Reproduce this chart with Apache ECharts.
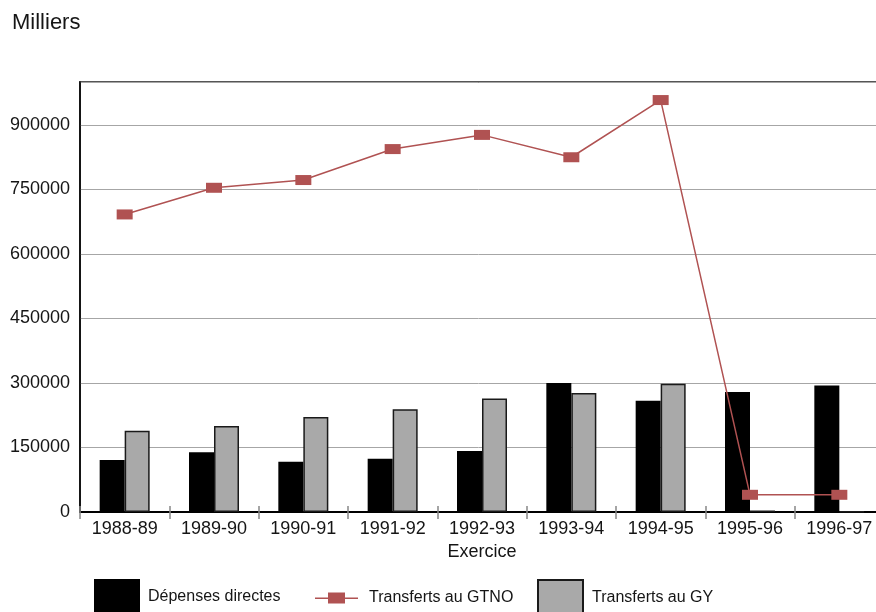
<!DOCTYPE html>
<html>
<head>
<meta charset="utf-8">
<script src="https://cdn.jsdelivr.net/npm/echarts@6/dist/echarts.min.js"></script>
<style>
  html, body { margin: 0; padding: 0; background: #fff; }
  #chart { width: 876px; height: 612px; }
</style>
</head>
<body>
<div id="chart"></div>
<script>
// Exercices financiers
const exercices = ['1988-89', '1989-90', '1990-91', '1991-92', '1992-93', '1993-94', '1994-95', '1995-96', '1996-97'];

// Montants en milliers de dollars
const depensesDirectes = [121000, 139000, 117000, 124000, 142000, 300000, 259000, 279000, 294000];
const transfertsGTNO  = [692000, 754000, 772000, 844000, 877000, 825000, 958000, 40000, 40000];
const transfertsGY    = [189000, 200000, 221000, 239000, 264000, 277000, 298000, 3500, 1200];

// Graduations de l'axe des valeurs
const yMin = 0;
const yMax = 1000000;
const yStep = 150000;

const FONT = "'Liberation Sans', Arial, sans-serif";
const TEXT = '#151515';
const RED = '#b05252';

const chart = echarts.init(document.getElementById('chart'), null, { renderer: 'canvas' });

chart.setOption({
  animation: false,
  backgroundColor: '#ffffff',
  textStyle: { fontFamily: FONT, color: TEXT },
  title: {
    text: 'Milliers',
    left: 12,
    top: 12,
    padding: 0,
    textStyle: { fontFamily: FONT, fontSize: 22, fontWeight: 'normal', color: TEXT }
  },
  grid: {
    left: 80,
    width: 804,
    top: 82,
    bottom: 100,
    outerBoundsMode: 'none',
    containLabel: false,
    show: true,
    borderColor: '#555',
    borderWidth: 2,
    backgroundColor: 'transparent'
  },
  legend: [
    {
      data: [{ name: 'Dépenses directes', icon: 'rect' }],
      left: 94, top: 579, padding: 0,
      itemWidth: 46, itemHeight: 36,
      textStyle: { fontFamily: FONT, fontSize: 16, color: TEXT, padding: [0, 0, 0, 3] },
      selectedMode: false
    },
    {
      data: [{
        name: 'Transferts au GTNO',
        icon: 'path://M0,5 L13,5 L13,0 L30,0 L30,5 L43,5 L43,6.5 L30,6.5 L30,11 L13,11 L13,6.5 L0,6.5 Z'
      }],
      left: 315, top: 590, padding: 0,
      itemWidth: 43, itemHeight: 11,
      textStyle: { fontFamily: FONT, fontSize: 16, color: TEXT, padding: [0, 0, 0, 6] },
      selectedMode: false
    },
    {
      data: [{ name: 'Transferts au GY', icon: 'rect' }],
      left: 537, top: 579, padding: 0,
      itemWidth: 45, itemHeight: 36,
      textStyle: { fontFamily: FONT, fontSize: 16, color: TEXT, padding: [0, 0, 0, 4] },
      selectedMode: false
    }
  ],
  xAxis: [
    {
      type: 'category',
      data: exercices,
      position: 'bottom',
      name: 'Exercice',
      nameLocation: 'middle',
      nameGap: 29,
      nameTextStyle: { fontFamily: FONT, fontSize: 18, color: TEXT },
      axisLine: { show: true, lineStyle: { color: '#000', width: 2 } },
      axisTick: { show: true, length: 7, lineStyle: { color: '#888', width: 1.5 } },
      axisLabel: { fontFamily: FONT, fontSize: 18, color: TEXT, margin: 8 },
      splitLine: { show: false }
    },
    {
      type: 'category',
      data: exercices,
      position: 'bottom',
      axisLine: { show: false },
      axisTick: { show: true, inside: true, length: 6, lineStyle: { color: '#888', width: 1.5 } },
      axisLabel: { show: false },
      splitLine: { show: false }
    }
  ],
  yAxis: {
    type: 'value',
    min: yMin,
    max: yMax,
    interval: yStep,
    axisLine: { show: true, lineStyle: { color: '#000', width: 1.5 } },
    axisTick: { show: false },
    axisLabel: {
      fontFamily: FONT, fontSize: 18, color: TEXT, margin: 10,
      formatter: v => (v % yStep === 0 ? String(v) : '')
    },
    splitLine: { show: true, lineStyle: { color: '#a6a6a6', width: 1 } }
  },
  series: [
    {
      name: 'Dépenses directes',
      type: 'bar',
      data: depensesDirectes,
      barWidth: 25,
      barGap: '0%',
      itemStyle: { color: '#000000' },
      z: 2
    },
    {
      name: 'Transferts au GTNO',
      type: 'line',
      data: transfertsGTNO,
      symbol: 'rect',
      symbolSize: [16, 10],
      lineStyle: { color: RED, width: 1.5 },
      itemStyle: { color: RED },
      z: 4
    },
    {
      name: 'Transferts au GY',
      type: 'bar',
      data: transfertsGY,
      barWidth: 25,
      barGap: '0%',
      itemStyle: { color: '#a9a9a9', borderColor: '#1a1a1a', borderWidth: 1.5 },
      z: 2
    }
  ]
});
</script>
</body>
</html>
